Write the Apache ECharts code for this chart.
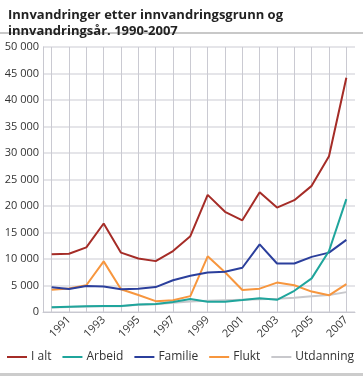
<!DOCTYPE html>
<html><head><meta charset="utf-8">
<script src="https://cdn.jsdelivr.net/npm/echarts@6/dist/echarts.min.js"></script>
<style>
html,body{margin:0;padding:0;background:#fff;}
#c{width:363px;height:376px;}
</style></head><body>
<div id="c"></div>
<script>
const years = [1990,1991,1992,1993,1994,1995,1996,1997,1998,1999,2000,2001,2002,2003,2004,2005,2006,2007];
const labelYears = [1991,1993,1995,1997,1999,2001,2003,2005,2007];
const iAlt =      [10900,11000,12200,16700,11200,10100,9600,11500,14300,22100,18900,17300,22600,19700,21100,23800,29400,44200];
const arbeid =    [900,1000,1100,1150,1150,1400,1500,1900,2450,1950,1950,2250,2600,2300,4000,6350,11500,21300];
const familie =   [4650,4350,4900,4800,4300,4400,4700,6000,6850,7450,7600,8350,12750,9150,9150,10400,11200,13600];
const flukt =     [4200,4450,5050,9550,4300,3200,2050,2200,3000,10500,7500,4150,4400,5550,5050,3850,3150,5250];
const utdanning = [850,950,1050,1100,1100,1350,1450,1750,2000,2100,2200,2300,2400,2500,2700,2950,3200,3750];

const names = ['I alt','Arbeid','Familie','Flukt','Utdanning'];
const colors = ['#a52c27','#1fa59c','#2b3f9c','#f7963e','#c8c8cc'];
const dataSets = [iAlt, arbeid, familie, flukt, utdanning];
const zs = [5,4,3,2,1];

const chart = echarts.init(document.getElementById('c'), null, {renderer:'canvas'});
const fmt = v => String(v).replace(/\B(?=(\d{3})+(?!\d))/g, ' ');
chart.setOption({
  animation:false,
  title:{
    text:'Innvandringer etter innvandringsgrunn og\ninnvandringsår. 1990-2007',
    left:3, top:2,
    textStyle:{fontFamily:'Open Sans', fontWeight:'bold', fontSize:13, color:'#222', lineHeight:16}
  },
  graphic:[
    {type:'rect', shape:{x:0,y:32,width:363,height:2}, style:{fill:'#c8c8c8'}, silent:true},
    {type:'rect', shape:{x:0,y:373,width:363,height:3}, style:{fill:'#cccccc'}, silent:true}
  ],
  legend:{
    data:names, bottom:8, left:2,
    itemWidth:20, itemHeight:2, itemGap:11,
    icon:'rect',
    textStyle:{fontFamily:'Open Sans', fontSize:12, color:'#333', padding:[0,0,0,-1]}
  },
  grid:{left:43, right:8, top:47, bottom:64, containLabel:false},
  xAxis:{
    type:'value', min:1989.5, max:2007.5,
    axisLine:{show:true, lineStyle:{color:'#c8c8d0', width:1}},
    axisTick:{show:false, customValues:years},
    axisLabel:{customValues:labelYears, rotate:45, fontFamily:'Open Sans', fontSize:11, color:'#333', margin:6, formatter:v=>String(v)},
    splitLine:{show:true, lineStyle:{color:'#cacad2', width:1}}
  },
  yAxis:{
    type:'value', min:0, max:50000, interval:5000,
    axisLine:{show:true, lineStyle:{color:'#c8c8d0', width:1}},
    axisTick:{show:false},
    axisLabel:{fontFamily:'Open Sans', fontSize:11, color:'#333', margin:4, formatter:fmt},
    splitLine:{show:true, lineStyle:{color:'#dcdce2', width:1.5}}
  },
  series: names.map((n,i)=>({
    name:n, type:'line', z:zs[i],
    data: years.map((y,j)=>[y, dataSets[i][j]]),
    showSymbol:false, symbol:'none',
    lineStyle:{color:colors[i], width:2},
    itemStyle:{color:colors[i]}
  }))
});
</script>
</body></html>
